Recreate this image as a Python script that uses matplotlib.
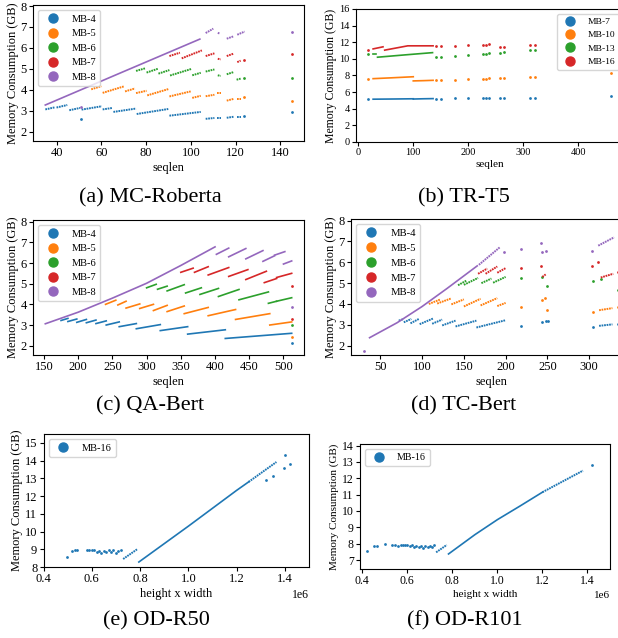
import matplotlib
matplotlib.use("Agg")
import matplotlib.pyplot as plt
from matplotlib.lines import Line2D

plt.rcParams["font.family"] = ["Liberation Serif", "DejaVu Serif"]

W, H = 618, 638
C = ["#1f77b4", "#ff7f0e", "#2ca02c", "#d62728", "#9467bd"]

# Each trace is a list of (x, y) points; one point = single dot, more = a run of dots
mc_labels = ["MB-4", "MB-5", "MB-6", "MB-7", "MB-8"]
mc_traces = {
    "MB-4": [[(35, 3.06), (39.3, 3.16)], [(40, 3.15), (44.8, 3.27)], [(45.7, 3.02), (50.5, 3.13)],
             [(50.8, 2.58)], [(51.2, 3.05), (60.2, 3.21)], [(60.6, 3.06), (65, 3.13)],
             [(65.4, 2.94), (75.5, 3.1)], [(75.8, 2.84), (89.9, 3.08)], [(90.4, 2.76), (104.4, 2.94)],
             [(106.6, 2.61), (110.5, 2.65)], [(111.8, 2.65), (113.3, 2.65)], [(116, 2.66), (119.2, 2.71)],
             [(120.4, 2.71), (122.2, 2.71)], [(123.8, 2.74)], [(145, 2.95)]],
    "MB-5": [[(55.5, 4.02), (60, 4.17)], [(60.6, 3.85), (70.1, 4.16)], [(70.6, 3.92), (75, 4.06)],
             [(75.5, 3.84), (80.2, 3.95)], [(80.5, 3.73), (89.9, 4.03)], [(90.4, 3.68), (99.9, 3.92)],
             [(100.6, 3.61), (104.4, 3.71)], [(106.6, 3.69), (110.5, 3.76)], [(111.8, 3.84), (113.3, 3.84)],
             [(116, 3.48), (119, 3.56)], [(120.4, 3.56), (122.2, 3.56)], [(123.8, 3.63)], [(145, 3.45)]],
    "MB-6": [[(75.5, 4.9), (79.5, 5.02)], [(80.2, 4.82), (85.2, 5.0)], [(85.5, 4.77), (90.4, 4.94)],
             [(90.7, 4.68), (100.4, 5.0)], [(100.6, 4.69), (104.4, 4.81)], [(106.6, 4.87), (110.5, 4.97)],
             [(112, 4.69), (113.3, 4.66)], [(116, 4.74), (119, 4.84)], [(120.4, 4.48), (122.2, 4.53)],
             [(123.8, 4.55)], [(145, 4.56)]],
    "MB-7": [[(90.4, 5.61), (95.1, 5.77)], [(95.9, 5.5), (104.9, 5.88)], [(106.6, 5.61), (110.5, 5.74)],
             [(112, 5.48), (113.3, 5.45)], [(116, 5.61), (119.2, 5.73)], [(120.7, 5.32), (122.2, 5.39)],
             [(123.8, 5.44)], [(145, 5.69)]],
    "MB-8": [[(35, 3.27), (70, 4.87), (104, 6.42)], [(50.8, 3.19)], [(106.6, 6.71), (110, 6.92)],
             [(112, 6.72), (113, 6.68)], [(116, 6.44), (119, 6.55)], [(120.7, 6.63), (124, 6.78)],
             [(145, 6.77)]],
}

tr_labels = ["MB-7", "MB-10", "MB-13", "MB-16"]
tr_traces = {
    "MB-7": [[(18, 5.14)], [(27, 5.15), (60, 5.17), (100, 5.2)], [(100, 5.17), (118, 5.2), (136, 5.22)],
             [(141, 5.2)], [(151, 5.2)],
             [(176, 5.25)], [(200, 5.25)], [(226, 5.3)], [(233, 5.3)], [(238, 5.3)], [(258, 5.3)],
             [(265, 5.3)], [(312, 5.35)], [(321, 5.35)], [(460, 5.5)]],
    "MB-10": [[(18, 7.6)], [(27, 7.62), (60, 7.72), (100, 7.85)], [(100, 7.35), (118, 7.38), (136, 7.42)],
              [(141, 7.42)], [(151, 7.45)],
              [(176, 7.5)], [(200, 7.55)], [(226, 7.62)], [(233, 7.62)], [(238, 7.65)], [(258, 7.7)],
              [(265, 7.72)], [(312, 7.85)], [(321, 7.85)], [(460, 8.3)]],
    "MB-13": [[(18, 10.6)], [(27, 10.6), (33, 10.6)], [(35, 10.2), (85, 10.48), (135, 10.75)],
              [(141, 10.2)], [(151, 10.2)],
              [(176, 10.3)], [(200, 10.48)], [(226, 10.6)], [(233, 10.62)], [(238, 10.68)], [(258, 10.76)],
              [(265, 10.8)], [(312, 11.03)], [(321, 11.03)]],
    "MB-16": [[(18, 11.1)], [(27, 11.2), (45, 11.45)], [(48, 11.05), (90, 11.57), (136, 11.57)], [(141, 11.57)],
              [(151, 11.57)], [(176, 11.55)], [(200, 11.62)], [(226, 11.68)], [(233, 11.7)], [(238, 11.77)],
              [(258, 11.4)], [(265, 11.45)], [(312, 11.72)], [(321, 11.72)]],
}

qa_labels = ["MB-4", "MB-5", "MB-6", "MB-7", "MB-8"]
qa_traces = {
    "MB-4": [[(175, 3.22), (185, 3.32)], [(185, 3.17), (198, 3.29)], [(198, 3.13), (212, 3.27)],
             [(212, 3.11), (226, 3.24)], [(226, 3.07), (241, 3.2)], [(241, 3.0), (260, 3.15)],
             [(260, 2.92), (285, 3.07)], [(285, 2.82), (320, 3.02)], [(320, 2.73), (360, 2.92)],
             [(360, 2.56), (415, 2.77)], [(415, 2.35), (512, 2.6)], [(512, 2.12)]],
    "MB-5": [[(240, 4.0), (255, 4.2)], [(258, 3.97), (270, 4.15)], [(270, 3.82), (290, 4.02)],
             [(290, 3.8), (310, 4.0)], [(310, 3.7), (330, 3.95)], [(330, 3.65), (355, 3.92)],
             [(355, 3.55), (390, 3.85)], [(390, 3.45), (430, 3.75)], [(430, 3.27), (480, 3.55)],
             [(480, 3.0), (512, 3.15)], [(512, 2.4)]],
    "MB-6": [[(300, 4.8), (314, 4.97)], [(316, 4.73), (330, 4.88)], [(330, 4.65), (355, 4.95)],
             [(357, 4.55), (380, 4.8)], [(378, 4.48), (405, 4.77)], [(405, 4.38), (435, 4.72)],
             [(435, 4.22), (478, 4.6)], [(478, 4.05), (490, 4.15)], [(490, 4.15), (512, 4.32)], [(512, 3.0)]],
    "MB-7": [[(350, 5.55), (368, 5.75)], [(370, 5.55), (390, 5.82)], [(390, 5.42), (420, 5.78)],
             [(420, 5.35), (448, 5.68)], [(445, 5.2), (475, 5.6)], [(472, 5.05), (490, 5.25)],
             [(490, 5.3), (512, 5.5)], [(512, 4.9)], [(512, 3.28)]],
    "MB-8": [[(152, 3.06), (200, 3.62), (250, 4.3), (300, 5.02), (350, 5.88), (400, 6.78)],
             [(402, 6.42), (420, 6.72)], [(420, 6.3), (445, 6.7)], [(445, 6.2), (470, 6.6)],
             [(470, 6.08), (487, 6.35)], [(487, 6.38), (502, 6.55)], [(500, 5.95), (512, 6.1)], [(512, 3.87)]],
}

tc_labels = ["MB-4", "MB-5", "MB-6", "MB-7", "MB-8"]
tc_traces = {
    "MB-4": [[(72, 3.2), (78, 3.28)], [(78, 3.12), (87, 3.28)], [(86, 3.07), (96, 3.28)], [(97, 3.03), (113, 3.3)],
             [(112, 3.05), (124, 3.25)], [(124, 2.97), (140, 3.2)], [(140, 2.92), (165, 3.2)],
             [(165, 2.87), (200, 3.22)], [(218, 2.92)], [(244, 3.12)], [(248, 3.18)], [(251, 3.2)],
             [(305, 2.88)], [(312, 2.95), (328, 3.02)], [(335, 3.05)]],
    "MB-5": [[(108, 4.0), (122, 4.22)], [(118, 4.02), (135, 4.27)], [(135, 3.98), (150, 4.22)],
             [(150, 3.88), (170, 4.25)], [(170, 3.93), (190, 4.28)], [(190, 3.9), (200, 4.05)], [(218, 3.85)],
             [(244, 4.2)], [(247, 4.28)], [(250, 3.72)], [(305, 3.62)], [(312, 3.7), (328, 3.8)], [(335, 3.86)]],
    "MB-6": [[(143, 4.9), (153, 5.12)], [(150, 4.92), (167, 5.25)], [(171, 5.0), (183, 5.22)],
             [(185, 5.02), (200, 5.3)], [(218, 5.25)], [(244, 5.3)], [(250, 4.85)], [(305, 5.1)],
             [(314, 5.22)], [(335, 4.68)]],
    "MB-7": [[(167, 5.45), (178, 5.7)], [(176, 5.45), (190, 5.8)], [(190, 5.5), (200, 5.72)], [(218, 5.72)],
             [(242, 5.82)], [(244, 5.3), (248, 5.42)], [(303, 5.82)], [(311, 6.02)],
             [(314, 5.27), (329, 5.45)], [(335, 5.52)]],
    "MB-8": [[(30, 1.72)], [(37, 2.38), (70, 3.1), (100, 3.88), (130, 4.75), (166, 5.83)],
             [(168, 5.88), (193, 6.72)], [(198, 6.5)], [(218, 6.66)], [(242, 6.93)], [(244, 6.48)],
             [(248, 6.56)], [(303, 6.56)], [(311, 6.8), (330, 7.2)]],
}

od50_traces = {
    "MB-16": [[(0.497e6, 8.54)], [(0.52e6, 8.93)], [(0.53e6, 8.95)], [(0.54e6, 8.98)], [(0.58e6, 8.95)],
              [(0.59e6, 8.96)], [(0.60e6, 8.95)], [(0.61e6, 8.97)], [(0.62e6, 8.85)], [(0.63e6, 8.93)],
              [(0.64e6, 8.8)], [(0.65e6, 8.92)], [(0.66e6, 8.87)], [(0.67e6, 8.95)], [(0.68e6, 8.85)],
              [(0.69e6, 8.97)], [(0.70e6, 8.8)], [(0.71e6, 8.93)], [(0.72e6, 8.97)],
              [(0.73e6, 8.45), (0.79e6, 9.02)],
              [(0.795e6, 8.28), (1.0e6, 10.3), (1.2e6, 12.32), (1.25e6, 12.8)],
              [(1.25e6, 12.8), (1.365e6, 13.92)],
              [(1.322e6, 12.9)], [(1.35e6, 13.15)], [(1.395e6, 13.6)], [(1.4e6, 14.3)], [(1.42e6, 13.8)]],
}

od101_traces = {
    "MB-16": [[(0.422e6, 7.55)], [(0.45e6, 7.86)], [(0.466e6, 7.87)], [(0.5e6, 7.96)], [(0.53e6, 7.9)],
              [(0.545e6, 7.92)], [(0.56e6, 7.88)], [(0.57e6, 7.93)], [(0.58e6, 7.9)], [(0.59e6, 7.92)],
              [(0.60e6, 7.9)], [(0.61e6, 7.88)], [(0.62e6, 7.9)], [(0.63e6, 7.82)], [(0.64e6, 7.88)],
              [(0.65e6, 7.78)], [(0.66e6, 7.85)], [(0.67e6, 7.75)], [(0.68e6, 7.85)], [(0.69e6, 7.8)],
              [(0.70e6, 7.88)], [(0.71e6, 7.82)], [(0.72e6, 7.9)],
              [(0.728e6, 7.47), (0.775e6, 7.92)],
              [(0.783e6, 7.37), (0.9e6, 8.55), (1.0e6, 9.47), (1.1e6, 10.3), (1.2e6, 11.15)],
              [(1.2e6, 11.15), (1.38e6, 12.47)], [(1.42e6, 12.83)]],
}

captions = ["(a) MC-Roberta", "(b) TR-T5", "(c) QA-Bert", "(d) TC-Bert", "(e) OD-R50", "(f) OD-R101"]


def add_axes(fig, left, top, right, bottom):
    return fig.add_axes([left / W, 1 - bottom / H, (right - left) / W, (bottom - top) / H])


def draw_panel(ax, traces, labels, colors, fs, legend_fs, legend_loc, dotted=True, lw=1.2):
    for label, color in zip(labels, colors):
        for tr in traces[label]:
            xs = [p[0] for p in tr]
            ys = [p[1] for p in tr]
            if len(tr) == 1:
                ax.plot(xs, ys, "o", ms=2, mew=0, color=color)
            elif len(tr) > 2 or not dotted:
                # dense runs read as a solid stroke
                ax.plot(xs, ys, "-", lw=lw, color=color)
            else:
                ax.plot(xs, ys, ls=(0, (0.9, 0.4)), lw=lw + 0.2, color=color)
    handles = [Line2D([0], [0], marker="o", ls="", color=c, markersize=6.5) for c in colors]
    ax.legend(handles, labels, loc=legend_loc, fontsize=legend_fs)
    ax.tick_params(labelsize=fs, length=3, pad=1.5)
    ax.set_ylabel("Memory Consumption (GB)", fontsize=fs, labelpad=1)


fig = plt.figure(figsize=(W / 100, H / 100), dpi=100)

# (a)
ax = add_axes(fig, 33, 5, 304, 141)
draw_panel(ax, mc_traces, mc_labels, C, 9, 7.5, "upper left")
ax.set_ylim(1.55, 8.05)
ax.set_yticks(range(2, 9))
ax.set_xlabel("seqlen", fontsize=9, labelpad=2)

# (b)
ax = add_axes(fig, 356, 9, 623.5, 142)
draw_panel(ax, tr_traces, tr_labels, C[:4], 7.5, 6.8, "upper right", dotted=False)
ax.set_ylabel("Memory Consumption (GB)", fontsize=8.5, labelpad=2)
ax.set_ylim(0, 16)
ax.set_yticks(range(0, 17, 2))
ax.set_xticks(range(0, 401, 100))
ax.set_xlabel("seqlen", fontsize=8, labelpad=2)

# (c)
ax = add_axes(fig, 33, 220, 304, 355)
draw_panel(ax, qa_traces, qa_labels, C, 9, 7.5, "upper left", dotted=False)
ax.set_ylim(1.55, 8.08)
ax.set_yticks(range(2, 9))
ax.set_xticks(range(150, 501, 50))
ax.set_xlabel("seqlen", fontsize=9, labelpad=2)

# (d)
ax = add_axes(fig, 351, 219, 631, 355)
draw_panel(ax, tc_traces, tc_labels, C, 9, 7.7, "upper left")
ax.set_ylim(1.55, 8.08)
ax.set_yticks(range(2, 9))
ax.set_xticks(range(50, 301, 50))
ax.set_xlabel("seqlen", fontsize=9, labelpad=2)

# (e)
ax = add_axes(fig, 43.5, 434, 309, 567)
draw_panel(ax, od50_traces, ["MB-16"], C[:1], 9, 7.5, "upper left")
ax.set_xlim(0.4e6, 1.5e6)
ax.set_ylim(8, 15.5)
ax.set_yticks(range(8, 16))
ax.set_xlabel("height x width", fontsize=9, labelpad=2)
ax.xaxis.get_offset_text().set_fontsize(8.5)

# (f)
ax = add_axes(fig, 360, 444, 610, 569)
draw_panel(ax, od101_traces, ["MB-16"], C[:1], 8.5, 7.2, "upper left")
ax.set_ylabel("Memory Consumption (GB)", fontsize=8, labelpad=2)
ax.set_xlim(0.39e6, 1.5e6)
ax.set_ylim(6.45, 14.1)
ax.set_yticks(range(7, 15))
ax.set_xlabel("height x width", fontsize=8, labelpad=2)
ax.xaxis.get_offset_text().set_fontsize(8)

# sub-figure captions
cap_pos = [(150, 198), (464, 198), (150, 406), (464, 406), (156, 621), (465, 621)]
for text, (cx, cy) in zip(captions, cap_pos):
    fig.text(cx / W, 1 - cy / H, text, ha="center", va="center", fontsize=16)

fig.savefig("out.png", dpi=100)
